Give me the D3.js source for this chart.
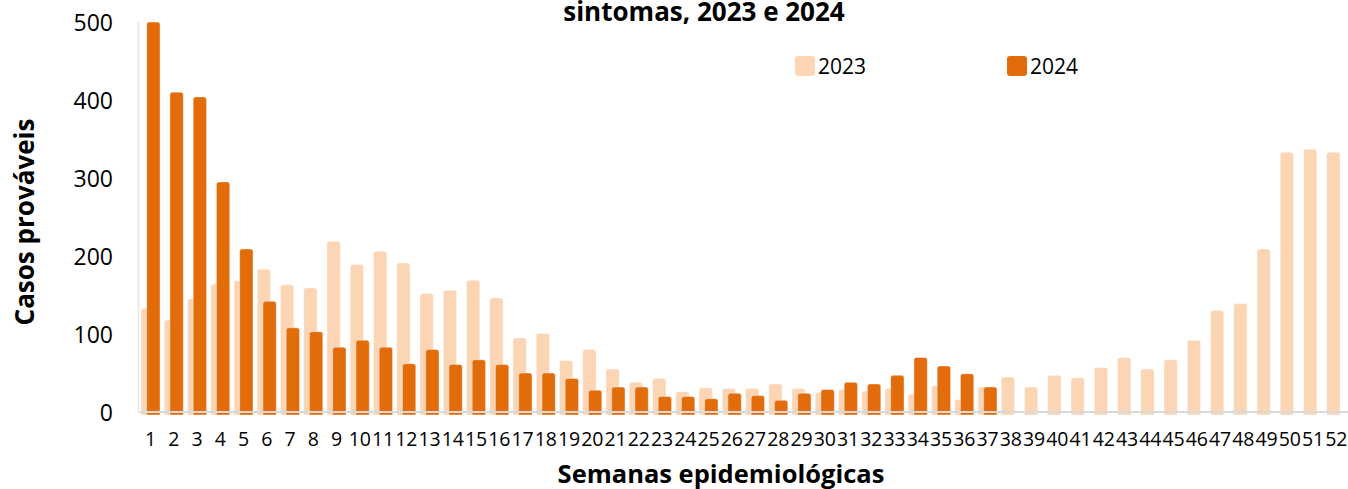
<!DOCTYPE html>
<html>
<head>
<meta charset="utf-8">
<script src="https://cdn.jsdelivr.net/npm/d3@7"></script>
<style>
	body { margin:0; background:#fff; }
	text { font-family:"Open Sans", sans-serif; fill:#000; }
</style>
</head>
<body>
<div id="chart"></div>
<script>

// ---------------------------------------------- DATA --------------------------------------------------
var WEEKS = ["1","2","3","4","5","6","7","8","9","10","11","12","13","14","15","16","17","18","19","20",
	"21","22","23","24","25","26","27","28","29","30","31","32","33","34","35","36","37","38","39","40",
	"41","42","43","44","45","46","47","48","49","50","51","52"];

var CASES_2023 = [133,118,145,164,168,183,163,159,219,189,206,191,152,156,169,146,95,101,66,80,
	55,38,43,26,31,30,30,36,30,25,29,27,30,23,34,16,32,45,32,47,
	44,57,70,55,67,92,130,139,209,333,337,333];

// 2024 only goes until week 37
var CASES_2024 = [500,410,404,295,209,142,108,103,83,92,83,62,80,61,67,61,50,50,43,28,
	32,32,20,20,17,24,21,15,24,29,38,36,47,70,59,49,32];

var Y_TICKS = [0,100,200,300,400,500];

var SERIES = [
	{"name":"2023", "values":CASES_2023, "color":"#FCD5B4"},
	{"name":"2024", "values":CASES_2024, "color":"#E36C0A"}
];

// ---------------------------------------------- LAYOUT --------------------------------------------------
var WIDTH = 1348, HEIGHT = 489;
var PLOT_LEFT = 139, PLOT_RIGHT = 1348, PLOT_TOP = 22, PLOT_BOTTOM = 412;

var svg = d3.select("#chart").append("svg")
	.attr("width",WIDTH)
	.attr("height",HEIGHT)
	.style("display","block");

svg.append("rect").attr("width",WIDTH).attr("height",HEIGHT).attr("fill","#fff");

var x = d3.scaleBand().domain(WEEKS).range([PLOT_LEFT,PLOT_RIGHT]).paddingInner(0).paddingOuter(0);
var y = d3.scaleLinear().domain([0,500]).range([PLOT_BOTTOM,PLOT_TOP]);

var bw = x.bandwidth();
var barW = bw*0.575;
// overlapping bars, 2024 shifted to the right of 2023
var barOffset = [bw*0.085, bw*0.33];

/** bar with rounded top corners, extends a bit under the axis line */
function _barPath(x0,y0,w,yBase,r){
	r = Math.min(r,(yBase-y0)/2,w/2);
	return "M"+x0+","+yBase
		+"L"+x0+","+(y0+r)
		+"Q"+x0+","+y0+" "+(x0+r)+","+y0
		+"L"+(x0+w-r)+","+y0
		+"Q"+(x0+w)+","+y0+" "+(x0+w)+","+(y0+r)
		+"L"+(x0+w)+","+yBase+"Z";
}

// ---------------------------------------------- BARS --------------------------------------------------
var gBars = svg.append("g").attr("id","bars");

SERIES.forEach(function(s,i){
	gBars.append("g").attr("class","series"+s.name)
		.selectAll("path")
		.data(s.values)
		.enter().append("path")
		.attr("d",function(d,j){
			return _barPath(x(WEEKS[j])+barOffset[i],y(d),barW,y(0)+3,2.5);
		})
		.attr("fill",s.color)
		.attr("stroke","#fff")
		.attr("stroke-opacity",0.5)
		.attr("stroke-width",0.8);
});

// ---------------------------------------------- AXES --------------------------------------------------
// y axis line
svg.append("line")
	.attr("x1",PLOT_LEFT-0.5).attr("x2",PLOT_LEFT-0.5)
	.attr("y1",PLOT_TOP).attr("y2",PLOT_BOTTOM)
	.attr("stroke","#e6e6e6").attr("stroke-width",1.5);

// x axis line (on top of the bars)
svg.append("line")
	.attr("x1",PLOT_LEFT).attr("x2",PLOT_RIGHT)
	.attr("y1",y(0)).attr("y2",y(0))
	.attr("stroke","#d9d9d9").attr("stroke-width",2);

var yAxis = d3.axisLeft(y).tickValues(Y_TICKS).tickSize(0).tickPadding(0);
var gY = svg.append("g").attr("transform","translate(113,0)").call(yAxis);
gY.select(".domain").remove();
gY.selectAll("text")
	.style("font-family","'Open Sans', sans-serif")
	.style("font-size","23px")
	.attr("dy","0.36em")
	.attr("fill","#000");

var xAxis = d3.axisBottom(x).tickSize(0).tickPadding(0);
var gX = svg.append("g").attr("transform","translate(0,446)").call(xAxis);
gX.select(".domain").remove();
gX.selectAll("text")
	.style("font-family","'Open Sans', sans-serif")
	.style("font-size","19.5px")
	.attr("dy","0")
	.attr("fill","#000");

// ---------------------------------------------- TITLES --------------------------------------------------
function _drawText(svg,text,x,y,size,weight,anchor,transform){
	var t = svg.append("text")
		.text(text)
		.attr("x",x)
		.attr("y",y)
		.style("font-size",size)
		.style("font-weight",weight)
		.style("text-anchor",anchor);
	if (transform) t.attr("transform",transform);
	return t;
}

_drawText(svg,"sintomas, 2023 e 2024",704,21,"26px","bold","middle");
_drawText(svg,"Semanas epidemiológicas",721,483,"25.5px","bold","middle");
_drawText(svg,"Casos prováveis",0,0,"26px","bold","middle","translate(34,222) rotate(-90)");

// ---------------------------------------------- LEGEND --------------------------------------------------
var legendX = [795,1007];
var gLegend = svg.append("g").attr("id","legend");
SERIES.forEach(function(s,i){
	gLegend.append("rect")
		.attr("x",legendX[i]).attr("y",56)
		.attr("width",20).attr("height",20)
		.attr("rx",3)
		.attr("fill",s.color);
	_drawText(gLegend,s.name,legendX[i]+23,74,"21px","normal","start");
});

</script>
</body>
</html>
